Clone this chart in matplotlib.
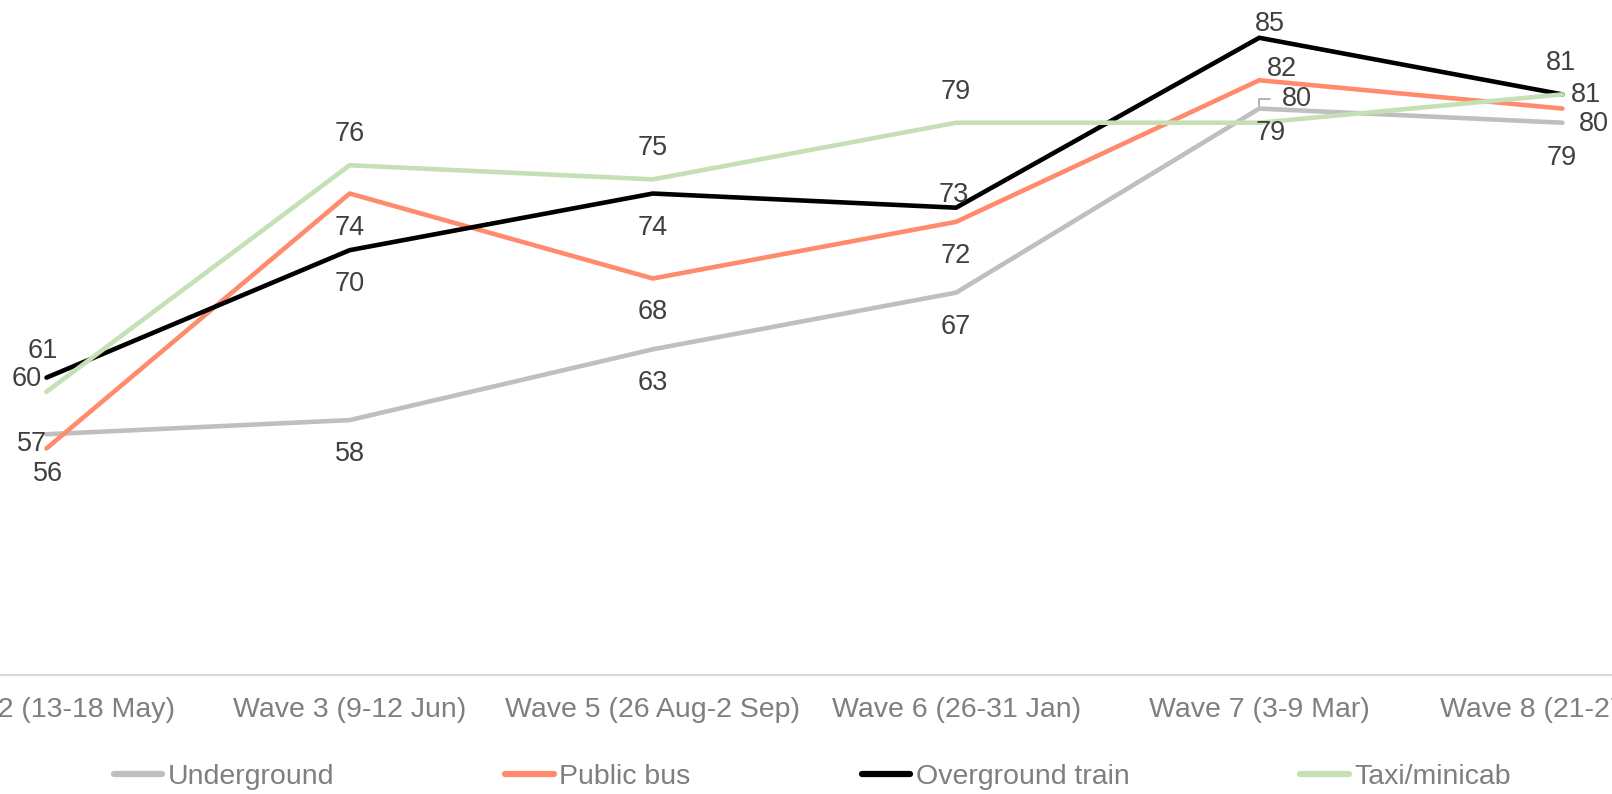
import matplotlib
matplotlib.use("Agg")
import matplotlib.pyplot as plt

plt.rcParams["font.family"] = ["Liberation Sans", "DejaVu Sans"]

waves = ["Wave 2 (13-18 May)", "Wave 3 (9-12 Jun)", "Wave 5 (26 Aug-2 Sep)",
         "Wave 6 (26-31 Jan)", "Wave 7 (3-9 Mar)", "Wave 8 (21-27 Apr)"]

underground = [57, 58, 63, 67, 80, 79]
public_bus = [56, 74, 68, 72, 82, 80]
overground = [61, 70, 74, 73, 85, 81]
taxi = [60, 76, 75, 79, 79, 81]

series = [
    ("Underground", underground, "#bfbfbf"),
    ("Public bus", public_bus, "#ff8a6c"),
    ("Overground train", overground, "#000000"),
    ("Taxi/minicab", taxi, "#c5e0b4"),
]

# label offsets in pixels (dx, dy), Excel placed these by hand
label_offsets = {
    "Underground": [(-14, -10), (0, -34), (0, -34), (0, -34), (38, 10), (-1, -35)],
    "Public bus": [(2, -26), (0, -34), (0, -34), (0, -34), (23, 11), (31, -15)],
    "Overground train": [(-4, 27), (0, -34), (0, -34), (-2, 13), (11, 14), (-1, 31)],
    "Taxi/minicab": [(-20, 13), (0, 31), (0, 31), (0, 31), (11, -10), (24, -1)],
}

fig = plt.figure(figsize=(16.12, 7.94), dpi=100)
ax = fig.add_axes([-0.0652, 0.1499, 1.1285, 0.8917])

x = list(range(len(waves)))
for name, vals, col in series:
    ax.plot(x, vals, color=col, lw=3.3, label=name, solid_capstyle="round")

for name, vals, col in series:
    for i, v in enumerate(vals):
        dx, dy = label_offsets[name][i]
        if name == "Underground" and i == 4:
            # leader line back to the point
            ax.annotate(str(v), xy=(i, v), xytext=(dx, dy), textcoords="offset pixels",
                        ha="center", va="center", fontsize=19.5, color="#404040",
                        arrowprops=dict(arrowstyle="-", color="#a6a6a6", lw=1.2,
                                        connectionstyle="angle,angleA=0,angleB=90,rad=0",
                                        shrinkA=7, shrinkB=2))
        else:
            ax.annotate(str(v), xy=(i, v), xytext=(dx, dy), textcoords="offset pixels",
                        ha="center", va="center", fontsize=19.5, color="#404040")

ax.set_xlim(-0.5, len(waves) - 0.5)
ax.set_ylim(40, 90)
ax.set_xticks(x)
ax.set_xticklabels(waves, fontsize=20.5, color="#7f7f7f")
ax.tick_params(axis="x", length=0, pad=16)
ax.set_yticks([])
for s in ["top", "right", "left"]:
    ax.spines[s].set_visible(False)
ax.spines["bottom"].set_color("#d9d9d9")
ax.spines["bottom"].set_linewidth(1.5)

leg = fig.legend(loc="center", bbox_to_anchor=(0.504, 0.021), ncol=4, frameon=False,
                 fontsize=20.5, handlelength=1.7, handletextpad=0.2, columnspacing=6.0,
                 labelcolor="#7f7f7f")
for h in leg.get_lines():
    h.set_linewidth(4.5)

fig.savefig("out.png", dpi=100)
